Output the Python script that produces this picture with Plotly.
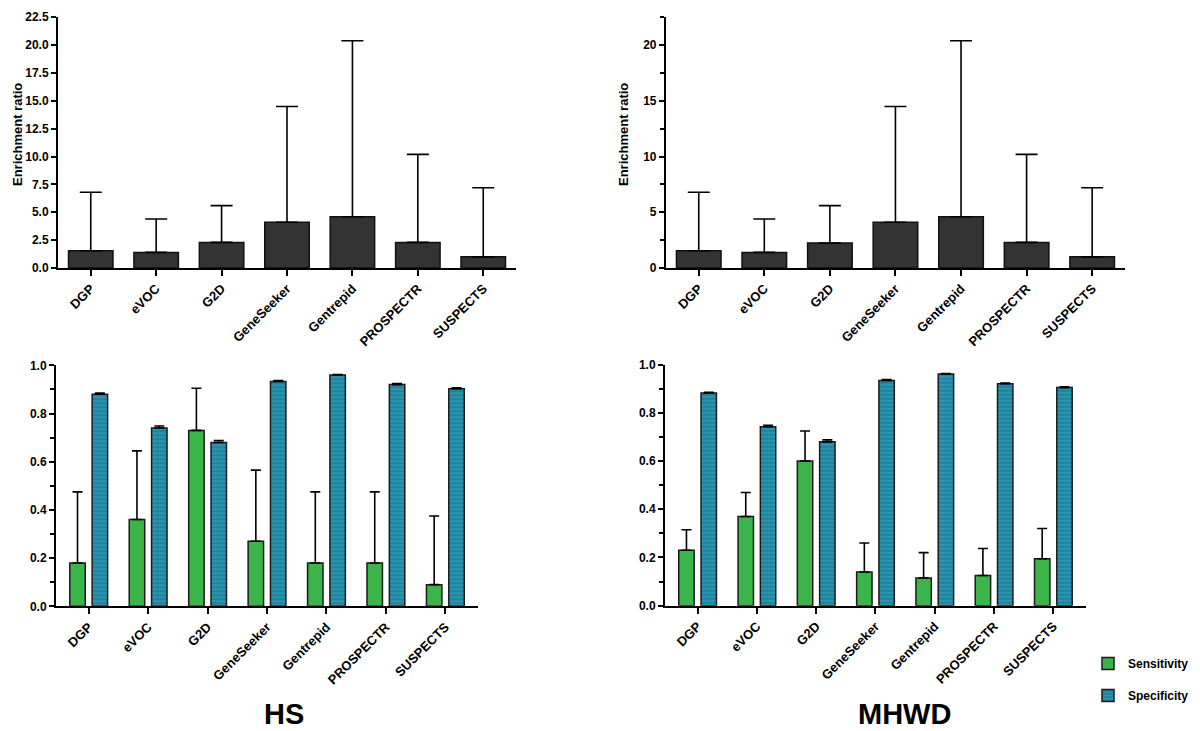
import plotly.graph_objects as go

categories = ["DGP", "eVOC", "G2D", "GeneSeeker", "Gentrepid", "PROSPECTR", "SUSPECTS"]

# Enrichment ratio (same in both panels) and upper error limits
enrich_hs = [1.55, 1.4, 2.3, 4.1, 4.6, 2.3, 1.0]
enrich_hs_upper = [6.8, 4.4, 5.6, 14.5, 20.4, 10.2, 7.2]
enrich_mhwd = [1.55, 1.4, 2.25, 4.1, 4.6, 2.3, 1.0]
enrich_mhwd_upper = [6.8, 4.4, 5.6, 14.5, 20.4, 10.2, 7.2]

# Sensitivity / specificity
sens_hs = [0.18, 0.36, 0.73, 0.27, 0.18, 0.18, 0.09]
sens_hs_upper = [0.475, 0.645, 0.905, 0.565, 0.475, 0.475, 0.375]
spec_hs = [0.88, 0.74, 0.68, 0.933, 0.96, 0.92, 0.903]
spec_hs_upper = [0.885, 0.748, 0.688, 0.937, 0.962, 0.924, 0.907]

sens_mhwd = [0.23, 0.37, 0.60, 0.14, 0.115, 0.125, 0.195]
sens_mhwd_upper = [0.315, 0.47, 0.725, 0.26, 0.22, 0.237, 0.32]
spec_mhwd = [0.883, 0.743, 0.68, 0.935, 0.962, 0.921, 0.905]
spec_mhwd_upper = [0.886, 0.749, 0.688, 0.938, 0.963, 0.924, 0.908]

panel_titles = ["HS", "MHWD"]
legend_names = ["Sensitivity", "Specificity"]
y_title = "Enrichment ratio"

FONT = "Liberation Sans, Arial, sans-serif"
DARK = "#333333"
GREEN = "#3bb54a"
TEAL = "#2a97b2"
STRIPE = "#12566a"


def err(vals, upper, w):
    return dict(type="data", symmetric=False,
                array=[u - v for u, v in zip(upper, vals)],
                arrayminus=[0] * len(vals),
                color="black", thickness=1.6, width=w)


fig = go.Figure()

# Top panels
for ax, vals, upper in [("", enrich_hs, enrich_hs_upper), ("2", enrich_mhwd, enrich_mhwd_upper)]:
    fig.add_trace(go.Bar(
        x=categories, y=vals, xaxis="x" + ax, yaxis="y" + ax,
        width=0.68, offset=-0.34,
        marker=dict(color=DARK, line=dict(color="#111111", width=1.5)),
        error_y=err(vals, upper, 11), showlegend=False))

# Bottom panels
for i, (ax, sv, su, pv, pu) in enumerate([
        ("3", sens_hs, sens_hs_upper, spec_hs, spec_hs_upper),
        ("4", sens_mhwd, sens_mhwd_upper, spec_mhwd, spec_mhwd_upper)]):
    show = i == 1
    fig.add_trace(go.Bar(
        x=categories, y=sv, xaxis="x" + ax, yaxis="y" + ax,
        name=legend_names[0], legendgroup="a",
        width=0.26, offset=-0.318,
        marker=dict(color=GREEN, line=dict(color="#1a1a1a", width=1.5)),
        error_y=err(sv, su, 5), showlegend=show))
    fig.add_trace(go.Bar(
        x=categories, y=pv, xaxis="x" + ax, yaxis="y" + ax,
        name=legend_names[1], legendgroup="b",
        width=0.26, offset=0.058,
        marker=dict(color=TEAL, line=dict(color="#1a1a1a", width=1.5),
                    pattern=dict(shape="-", fgcolor=STRIPE, bgcolor=TEAL,
                                 size=4, solidity=0.35)),
        error_y=err(pv, pu, 5), showlegend=show))

tickfont = dict(family=FONT, size=12, color="black", weight="bold")
xtickfont = dict(family=FONT, size=13, color="black", weight="bold")

def xaxis(domain, anchor, rng):
    return dict(domain=domain, anchor=anchor, type="category", range=rng,
                showline=True, linecolor="black", linewidth=2,
                ticks="outside", ticklen=6, tickwidth=2, tickcolor="black",
                tickangle=-45, tickfont=xtickfont, showgrid=False, zeroline=False,
                fixedrange=True)

def yaxis(domain, anchor, rng, dtick, fmt, minor):
    d = dict(domain=domain, anchor=anchor, range=rng, dtick=dtick, tick0=0,
             tickformat=fmt, showline=True, linecolor="black", linewidth=2,
             ticks="outside", ticklen=5, tickwidth=2, tickcolor="black",
             tickfont=tickfont, showgrid=False, zeroline=False, fixedrange=True)
    if minor:
        d["minor"] = dict(dtick=minor, ticks="outside", ticklen=4, tickwidth=1.5,
                          tickcolor="black", showgrid=False)
    return d

fig.update_layout(
    width=1200, height=731,
    margin=dict(l=0, r=0, t=0, b=0, autoexpand=False),
    paper_bgcolor="white", plot_bgcolor="white",
    barmode="overlay",
    font=dict(family=FONT, color="black"),
    xaxis=xaxis([0.0417, 0.4233], "y", [-0.5, 6.5]),
    yaxis=yaxis([0.6443, 0.9873], "x", [0, 22.5], 2.5, ".1f", None),
    xaxis2=xaxis([0.5483, 0.9308], "y2", [-0.5, 6.5]),
    yaxis2=yaxis([0.6443, 0.9873], "x2", [0, 22.5], 5, "d", 2.5),
    xaxis3=xaxis([0.04, 0.3917], "y3", [-0.55, 6.55]),
    yaxis3=yaxis([0.1815, 0.5112], "x3", [0, 1], 0.2, ".1f", 0.1),
    xaxis4=xaxis([0.5475, 0.8983], "y4", [-0.55, 6.55]),
    yaxis4=yaxis([0.1824, 0.5120], "x4", [0, 1], 0.2, ".1f", 0.1),
    legend=dict(x=0.9, y=0.123, xanchor="left", yanchor="top",
                font=dict(family=FONT, size=12, color="black", weight="bold"),
                traceorder="grouped", tracegroupgap=13, itemwidth=30,
                bgcolor="rgba(0,0,0,0)"),
)

def ann(text, x, y, size, angle=0):
    return dict(text=text, x=x / 1200, y=1 - y / 731, xref="paper", yref="paper",
                xanchor="center", yanchor="middle", textangle=angle, showarrow=False,
                font=dict(family=FONT, size=size, color="black", weight="bold"))

fig.update_layout(annotations=[
    ann(y_title, 10, 127, 13, -90),
    ann(y_title, 616, 127, 13, -90),
    ann(panel_titles[0], 276, 706, 29),
    ann(panel_titles[1], 896, 706, 29),
])

fig.write_html("out.html")
